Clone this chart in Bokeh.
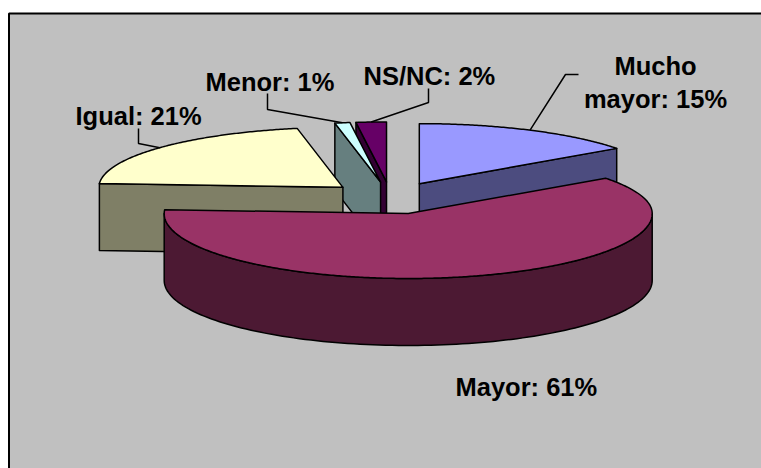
import numpy as np
from bokeh.plotting import figure
from bokeh.models import Range1d, ColumnDataSource
from bokeh.embed import file_html
from bokeh.resources import INLINE
from bokeh.core.properties import value

# ---------------- data ----------------
categories = ["Mucho mayor", "Mayor", "Igual", "Menor", "NS/NC"]
percents = [15, 61, 21, 1, 2]
label_texts = ["Mucho\nmayor: 15%", "Mayor: 61%", "Igual: 21%", "Menor: 1%", "NS/NC: 2%"]
top_colors = ["#9999FF", "#993366", "#FFFFCC", "#CCFFFF", "#660066"]
side_colors = ["#4C4C7F", "#4C1933", "#7F7F66", "#667F7F", "#330033"]

# ---------------- layout (screen pixels of the page) ----------------
W, H = 761, 468
CX, CY = 390.0, 197.5          # pie centre
RX = 244.0                     # horizontal radius
RY_BACK, RY_FRONT = 60.0, 65.0 # vertical radius (back / front half)
RY_MID = 62.0
DEPTH = 67.0                   # thickness of the pie
EXPLODE = 0.26

# label anchors: (x, baseline y, align) and leader (start, elbow)
label_layout = {
    "Mucho mayor": dict(x=655, y=[65, 98], align="center", lead=[(578, 74), (565, 74)]),
    "Mayor": dict(x=455, y=[386], align="left", lead=None),
    "Igual": dict(x=75, y=[115], align="left", lead=[(138, 128), (138, 143)]),
    "Menor": dict(x=205, y=[81], align="left", lead=[(267, 93), (267, 109)]),
    "NS/NC": dict(x=363, y=[75], align="left", lead=[(428, 88), (428, 102)]),
}

p = figure(width=W, height=H, output_backend="svg", toolbar_location=None,
           x_range=Range1d(0, W), y_range=Range1d(H, 0),
           min_border=0, outline_line_color=None,
           background_fill_color="white", border_fill_color="white")
p.axis.visible = False
p.grid.visible = False

# chart area background with border
p.quad(left=[8.5], right=[900], top=[13], bottom=[900],
       fill_color="#C0C0C0", line_color="black", line_width=2)


def ry_of(s):
    return RY_BACK if s > 0 else RY_FRONT


def rim(apex, th, z=0.0, r=1.0):
    t = np.radians(th)
    s = np.sin(t)
    return apex[0] + r * RX * np.cos(t), apex[1] - r * ry_of(s) * s + z


total = float(sum(percents))
slices = []
cum = 0.0
for i, pc in enumerate(percents):
    a_hi = 90.0 - cum / total * 360.0
    cum += pc
    a_lo = 90.0 - cum / total * 360.0
    mid = 0.5 * (a_lo + a_hi)
    mr = np.radians(mid)
    apex = (CX + EXPLODE * RX * np.cos(mr), CY - EXPLODE * RY_MID * np.sin(mr))
    slices.append(dict(i=i, lo=a_lo, hi=a_hi, mid=mid, apex=apex))

# back to front
order = sorted(slices, key=lambda s: -np.sin(np.radians(s["mid"])))

xs, ys, fills = [], [], []
for s in order:
    i, lo, hi, apex = s["i"], s["lo"], s["hi"], s["apex"]
    side = side_colors[i]
    # radial faces
    for th, vis in ((lo, np.cos(np.radians(lo)) > 1e-6), (hi, np.cos(np.radians(hi)) < -1e-6)):
        if vis:
            x1, y1 = rim(apex, th)
            xs.append([apex[0], x1, x1, apex[0]])
            ys.append([apex[1], y1, y1 + DEPTH, apex[1] + DEPTH])
            fills.append(side)
    # outer front side
    for k in range(-2, 3):
        a = max(lo, -180 + 360 * k)
        b = min(hi, 0 + 360 * k)
        if a < b:
            th = np.linspace(a, b, 120)
            pts = [rim(apex, t) for t in th]
            px = [q[0] for q in pts]
            py = [q[1] for q in pts]
            xs.append(px + px[::-1])
            ys.append(py + [v + DEPTH for v in py[::-1]])
            fills.append(side)
    # top face
    th = np.linspace(lo, hi, max(8, int((hi - lo) * 2)))
    pts = [rim(apex, t) for t in th]
    xs.append([apex[0]] + [q[0] for q in pts])
    ys.append([apex[1]] + [q[1] for q in pts])
    fills.append(top_colors[i])

src = ColumnDataSource(dict(xs=xs, ys=ys, fill=fills))
p.patches("xs", "ys", source=src, fill_color="fill", line_color="black",
          line_width=1.5, line_join="round")

# labels and leader lines
for s in slices:
    i = s["i"]
    lay = label_layout[categories[i]]
    lines = label_texts[i].split("\n")
    p.text(x=[lay["x"]] * len(lines), y=lay["y"], text=lines,
           text_font=value("Liberation Sans"), text_font_style="bold",
           text_font_size="25.5px", text_color="black",
           text_align=lay["align"], text_baseline="alphabetic")
    if lay["lead"]:
        ex, ey = rim(s["apex"], s["mid"])
        lx = [lay["lead"][0][0], lay["lead"][1][0], ex]
        ly = [lay["lead"][0][1], lay["lead"][1][1], ey]
        p.line(lx, ly, line_color="black", line_width=1.5)

open("out.html", "w").write(file_html(p, INLINE))
